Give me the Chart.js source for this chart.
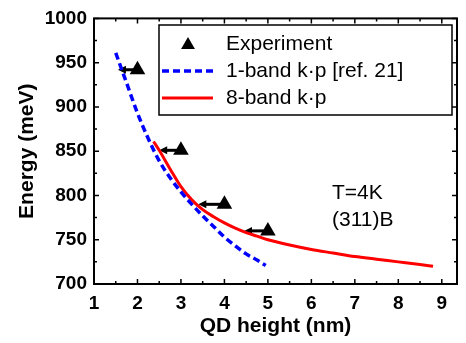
<!DOCTYPE html>
<html><head><meta charset="utf-8">
<script src="https://cdn.jsdelivr.net/npm/chart.js@4/dist/chart.umd.min.js"></script>
<style>html,body{margin:0;padding:0;background:#fff}#wrap{width:466px;height:343px}</style>
</head><body><div id="wrap"><canvas id="chart" width="466" height="343"></canvas></div>
<script>
const FONT = '"Liberation Sans", Arial, Helvetica, sans-serif';

// experiment: QD height (nm) vs energy (meV); arrows point to the left
const expHeight = [2, 3, 4, 5];
const expEnergy = [942, 851, 790, 760];
const arrowTip = [1.55, 2.5, 3.4, 4.45];

// 1-band k.p [ref. 21]
const oneBandH = [1.5, 1.75, 2, 2.25, 2.5, 2.75, 3, 3.25, 3.5, 3.75, 4, 4.25, 4.5, 4.75, 4.95];
const oneBandE = [961, 927, 893, 864, 839, 820, 804, 790, 777, 765, 753, 743, 734, 727, 721];

// 8-band k.p
const eightBandH = [2.37, 2.5, 2.75, 3, 3.25, 3.5, 3.75, 4, 4.25, 4.5, 4.75, 5, 5.5, 6, 6.5, 7, 7.5, 8, 8.5, 8.8];
const eightBandE = [861, 851, 830, 810, 795, 784, 776, 769, 763, 758, 754, 750, 744, 739, 735, 731, 728, 725, 722, 720];

const xTicks = [1, 2, 3, 4, 5, 6, 7, 8, 9];
const yTicks = [700, 750, 800, 850, 900, 950, 1000];

const pts = (xs, ys) => xs.map((x, i) => ({x, y: ys[i]}));

function tri(ctx, x, y, r){
  ctx.beginPath();
  ctx.moveTo(x, y - r);
  ctx.lineTo(x + r*0.866, y + r/2);
  ctx.lineTo(x - r*0.866, y + r/2);
  ctx.closePath();
  ctx.fill();
}

const decor = {
  id: 'decor',
  beforeDatasetsDraw(chart){
    const {ctx, scales:{x, y}} = chart;
    ctx.save();
    ctx.strokeStyle = '#000'; ctx.fillStyle = '#000'; ctx.lineWidth = 3;
    expHeight.forEach((h, i) => {
      const x0 = x.getPixelForValue(h), x1 = x.getPixelForValue(arrowTip[i]);
      const yy = y.getPixelForValue(expEnergy[i]);
      ctx.beginPath(); ctx.moveTo(x0, yy); ctx.lineTo(x1 + 6, yy); ctx.stroke();
      ctx.beginPath(); ctx.moveTo(x1, yy); ctx.lineTo(x1 + 8, yy - 4); ctx.lineTo(x1 + 8, yy + 4); ctx.closePath(); ctx.fill();
    });
    ctx.restore();
  },
  afterDraw(chart){
    const {ctx, chartArea:a, scales:{x, y}} = chart;
    ctx.save();
    ctx.strokeStyle = '#000'; ctx.lineWidth = 1.5;
    // inward ticks on all four sides
    for (let v = 1; v <= 9.35; v += 0.5){
      const px = x.getPixelForValue(v), len = (v % 1 === 0) ? 5 : 3;
      ctx.beginPath();
      ctx.moveTo(px, a.bottom); ctx.lineTo(px, a.bottom - len);
      ctx.moveTo(px, a.top); ctx.lineTo(px, a.top + len);
      ctx.stroke();
    }
    for (let v = 700; v <= 1000; v += 25){
      const py = y.getPixelForValue(v), len = (v % 50 === 0) ? 5 : 3;
      ctx.beginPath();
      ctx.moveTo(a.left, py); ctx.lineTo(a.left + len, py);
      ctx.moveTo(a.right, py); ctx.lineTo(a.right - len, py);
      ctx.stroke();
    }
    ctx.lineWidth = 2;
    ctx.strokeRect(a.left, a.top, a.right - a.left, a.bottom - a.top);

    // legend box
    const lx = 159, ly = 25, lw = 293, lh = 90;
    ctx.fillStyle = '#fff'; ctx.fillRect(lx, ly, lw, lh);
    ctx.lineWidth = 1.5; ctx.strokeRect(lx, ly, lw, lh);
    ctx.fillStyle = '#000';
    tri(ctx, 188, 45, 8);
    ctx.lineWidth = 3.5; ctx.strokeStyle = '#0000ff'; ctx.setLineDash([7, 4]);
    ctx.beginPath(); ctx.moveTo(162, 71); ctx.lineTo(213, 71); ctx.stroke();
    ctx.setLineDash([]); ctx.strokeStyle = '#ff0000'; ctx.lineWidth = 3;
    ctx.beginPath(); ctx.moveTo(162, 98); ctx.lineTo(213, 98); ctx.stroke();
    ctx.font = '21px ' + FONT; ctx.textBaseline = 'middle'; ctx.textAlign = 'left';
    ctx.fillText('Experiment', 226, 44);
    ctx.fillText('1-band k\u00b7p [ref. 21]', 226, 71);
    ctx.fillText('8-band k\u00b7p', 226, 98);

    // annotation
    ctx.fillText('T=4K', 332, 193);
    ctx.fillText('(311)B', 332, 220);
    ctx.restore();
  }
};

const tickFont = {family: FONT, size: 19, weight: 'bold'};
const titleFont = {family: FONT, size: 21, weight: 'bold'};

new Chart(document.getElementById('chart'), {
  type: 'scatter',
  data: {
    datasets: [
      {label: '1-band', data: pts(oneBandH, oneBandE), showLine: true, borderColor: '#0000ff', borderWidth: 3.5,
       borderDash: [7, 4], pointRadius: 0, tension: 0.4, cubicInterpolationMode: 'monotone'},
      {label: '8-band', data: pts(eightBandH, eightBandE), showLine: true, borderColor: '#ff0000', borderWidth: 3,
       pointRadius: 0, tension: 0.4, cubicInterpolationMode: 'monotone'},
      {label: 'Experiment', data: pts(expHeight, expEnergy), showLine: false, pointStyle: 'triangle',
       pointRadius: 9, backgroundColor: '#000', borderColor: '#000', borderWidth: 0}
    ]
  },
  options: {
    responsive: false, animation: false, devicePixelRatio: 1,
    layout: {padding: {top: 15, right: 8, left: 0, bottom: 0}},
    plugins: {legend: {display: false}, tooltip: {enabled: false}},
    scales: {
      x: {
        type: 'linear', min: 1, max: 9.35,
        afterBuildTicks: s => { s.ticks = xTicks.map(v => ({value: v})); },
        afterFit: s => { s.height = 59; },
        grid: {display: false, drawTicks: false, tickLength: 0}, border: {display: false},
        ticks: {font: tickFont, color: '#000', padding: 8, maxRotation: 0, callback: v => String(v)},
        title: {display: true, text: 'QD height (nm)', font: titleFont, color: '#000', padding: {top: 0, bottom: 4}}
      },
      y: {
        type: 'linear', min: 700, max: 1000,
        afterBuildTicks: s => { s.ticks = yTicks.map(v => ({value: v})); },
        afterFit: s => { s.width = 94; },
        grid: {display: false, drawTicks: false, tickLength: 0}, border: {display: false},
        ticks: {font: tickFont, color: '#000', padding: 7, callback: v => String(v)},
        title: {display: true, text: 'Energy (meV)', font: titleFont, color: '#000', padding: {top: 15, bottom: 0}}
      }
    }
  },
  plugins: [decor]
});
</script>
</body></html>
